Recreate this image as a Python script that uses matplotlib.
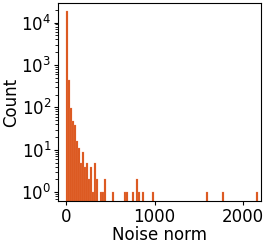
import numpy as np
import matplotlib
matplotlib.use('Agg')
import matplotlib.pyplot as plt

# histogram of noise norms (96 bins from 0 to ~2166)
binCount = 96
binMax = 2166
nonZeroBins = [0, 1, 2, 3, 4, 5, 6, 7, 8, 9, 10, 11, 12, 13, 14, 15, 17, 18, 19,
               23, 29, 30, 33, 35, 36, 38, 43, 70, 78, 95]
nonZeroCounts = [19000, 450, 97, 47, 39, 16, 11, 5, 9, 4, 5, 2, 4, 1, 5, 2, 1, 1, 2,
                 1, 1, 1, 1, 2, 1, 1, 1, 1, 1, 1]
xTicks = [0, 1000, 2000]

barColor = '#D95319'

binEdges = np.linspace(0, binMax, binCount + 1)
binWidth = binEdges[1] - binEdges[0]
binCenters = [binEdges[i] + binWidth / 2 for i in nonZeroBins]

fig = plt.figure(figsize=(2.66, 2.44), dpi=100)
ax = fig.add_axes([0.219, 0.175, 0.764, 0.813])

ax.hist(binCenters, bins=binEdges, weights=nonZeroCounts, color=barColor,
        edgecolor=(0.95, 0.55, 0.4, 0.6), linewidth=0.3)
ax.set_yscale('log')
ax.set_ylim(0.61, 29000)
ax.set_xlim(-87, 2205)
ax.set_xticks(xTicks)
ax.set_yticks([1, 10, 100, 1000, 10000])

ax.tick_params(labelsize=12, length=3, pad=2)
ax.tick_params(which='minor', length=2)
ax.set_xlabel('Noise norm', fontsize=12, labelpad=0)
ax.set_ylabel('Count', fontsize=12, labelpad=1)

fig.savefig('out.png', dpi=100)
